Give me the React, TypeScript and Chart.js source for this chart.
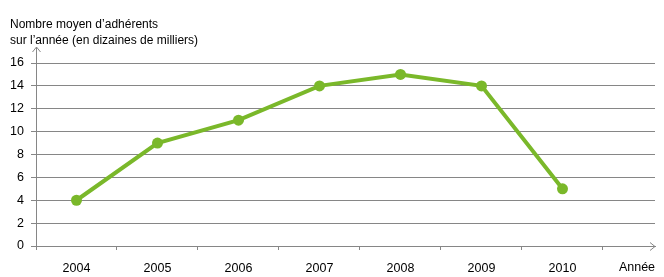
import React, { useEffect, useRef } from "react";
import { Chart, registerables } from "chart.js";

Chart.register(...registerables);

const categories = ["2004", "2005", "2006", "2007", "2008", "2009", "2010"];
const axisEndLabel = "Année";
const adherents = [4, 9, 11, 14, 15, 14, 5];
const yTicks = [0, 2, 4, 6, 8, 10, 12, 14, 16];
const titleLines = ["Nombre moyen d\u2019adhérents", "sur l\u2019année (en dizaines de milliers)"];

const FONT = "'Liberation Sans', Arial, sans-serif";
const GRID = "#868686";
const GREEN = "#7ab82a";

export default function App() {
  const ref = useRef<HTMLCanvasElement | null>(null);

  useEffect(() => {
    document.body.style.margin = "0";
    const canvas = ref.current;
    if (!canvas) return;
    const xLabels = [...categories, ""];

    const decor = {
      id: "decor",
      afterDraw(chart: any) {
        const ctx = chart.ctx;
        const a = chart.chartArea;
        ctx.save();
        ctx.strokeStyle = GRID;
        ctx.lineWidth = 1;
        // y axis extension + arrow
        ctx.beginPath();
        ctx.moveTo(a.left + 0.5, a.top);
        ctx.lineTo(a.left + 0.5, a.top - 16);
        ctx.moveTo(a.left - 3.5, a.top - 11);
        ctx.lineTo(a.left + 0.5, a.top - 16);
        ctx.lineTo(a.left + 4.5, a.top - 11);
        ctx.stroke();
        // x arrow
        ctx.beginPath();
        ctx.moveTo(a.right - 5, a.bottom - 3.5);
        ctx.lineTo(a.right, a.bottom + 0.5);
        ctx.lineTo(a.right - 5, a.bottom + 4.5);
        ctx.stroke();
        // title + axis end label
        ctx.fillStyle = "#000";
        ctx.font = `12px ${FONT}`;
        ctx.textBaseline = "alphabetic";
        ctx.textAlign = "left";
        ctx.fillText(titleLines[0], 10, 28);
        ctx.fillText(titleLines[1], 10, 44);
        ctx.font = `12.5px ${FONT}`;
        ctx.textAlign = "center";
        ctx.textBaseline = "middle";
        ctx.fillText(axisEndLabel, a.right - 18, a.bottom + 22);
        ctx.restore();
      },
    };

    const chart = new Chart(canvas, {
      type: "line",
      data: {
        datasets: [
          {
            data: adherents.map((v, i) => ({ x: i + 0.5, y: v })),
            borderColor: GREEN,
            backgroundColor: GREEN,
            borderWidth: 4,
            pointRadius: 5.5,
            pointHoverRadius: 5.5,
            pointBorderWidth: 0,
            tension: 0,
          },
        ],
      },
      options: {
        animation: false,
        responsive: false,
        layout: { padding: { top: 63, right: 9, left: 0, bottom: 0 } },
        plugins: { legend: { display: false }, tooltip: { enabled: false }, title: { display: false } },
        scales: {
          x: {
            type: "linear",
            min: 0,
            max: 7.642,
            afterBuildTicks: (scale: any) => {
              scale.ticks = xLabels.map((_, i) => ({ value: i }));
            },
            afterFit: (scale: any) => {
              scale.height = 31;
            },
            grid: { display: true, drawOnChartArea: false, drawTicks: true, tickLength: 4, color: GRID },
            border: { display: true, color: GRID },
            ticks: {
              autoSkip: false,
              maxRotation: 0,
              labelOffset: 40.5,
              padding: 11,
              color: "#000",
              font: { family: FONT, size: 12.5 },
              callback: (_v: any, i: number) => xLabels[i],
            },
          },
          y: {
            min: 0,
            max: 16,
            afterBuildTicks: (scale: any) => {
              scale.ticks = yTicks.map((v) => ({ value: v }));
            },
            afterFit: (scale: any) => {
              scale.width = 36;
            },
            grid: { color: GRID, tickLength: 5 },
            border: { display: true, color: GRID },
            ticks: {
              padding: 7,
              color: "#000",
              font: { family: FONT, size: 12.5 },
            },
          },
        },
      },
      plugins: [decor],
    } as any);
    return () => chart.destroy();
  }, []);

  return <canvas ref={ref} width={664} height={277} style={{ display: "block" }} />;
}
